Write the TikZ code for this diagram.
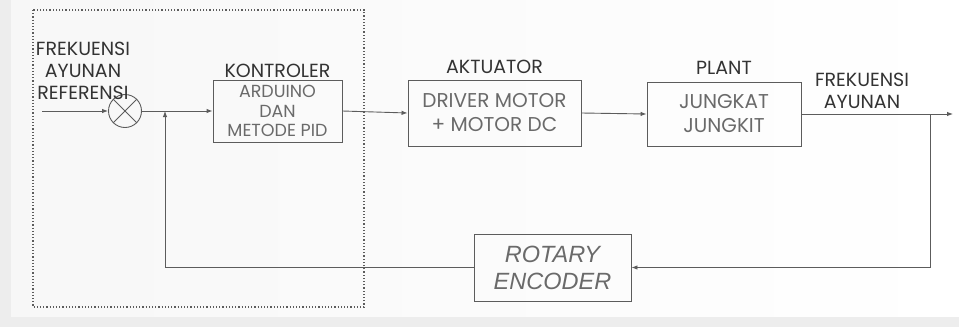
\documentclass[tikz,border=0pt]{standalone}
\usepackage{fontspec}
\setmainfont{Poppins}
\newfontfamily\encfont{Liberation Sans}
\usetikzlibrary{arrows.meta,positioning,shapes.geometric}

\definecolor{txtdark}{HTML}{333333}
\definecolor{txtgray}{HTML}{6A6A6A}
\definecolor{linegray}{HTML}{5C5C5C}

\begin{document}
\begin{tikzpicture}[x=1pt, y=-1pt,
  blok/.style={draw=linegray, line width=0.9pt, align=center, inner sep=0pt, text=txtgray, font=\fontsize{20}{24}\selectfont},
  judul/.style={inner sep=0pt, text=txtdark, align=center, font=\fontsize{19}{22}\selectfont},
  arr/.style={-{Latex[length=6pt,width=4.5pt]}, draw=linegray, line width=0.9pt},
  garis/.style={draw=linegray, line width=0.9pt},
]
  % background
  \fill[gray!14] (0,0) rectangle (959,327);
  \shade[left color=gray!6, right color=white] (11,0) rectangle (959,316);
  \useasboundingbox (0,0) rectangle (959,327);

  % Main flow
  \node[circle, draw=linegray, line width=0.9pt, minimum size=33pt, inner sep=0pt] (sum) at (125,111) {};
  \draw[garis] (sum.north west) -- (sum.south east) (sum.north east) -- (sum.south west);
  \node[blok, minimum width=129pt, minimum height=62pt, font=\fontsize{17.5}{19.5}\selectfont] (kon) at (277.5,111) {ARDUINO\\DAN\\METODE PID};
  \node[blok, minimum width=173pt, minimum height=66pt] (akt) at (494.5,113) {DRIVER MOTOR\\+ MOTOR DC};
  \node[blok, minimum width=154pt, minimum height=64pt] (plt) at (724,114) {JUNGKAT\\JUNGKIT};
  \node[blok, minimum width=157pt, minimum height=67pt, font=\encfont\itshape\fontsize{23.5}{27}\selectfont] (enc) at (552.5,267.5) {ROTARY\\ENCODER};

  % Labels
  \node[judul] (reflbl) at (83,71) {FREKUENSI\\AYUNAN\\REFERENSI};
  \node[judul, above=2pt of kon] (konlbl) {KONTROLER};
  \node[judul, above=6pt of akt] (aktlbl) {AKTUATOR};
  \node[judul, above=7pt of plt] (pltlbl) {PLANT};
  \node[judul] (outlbl) at (862,91) {FREKUENSI\\AYUNAN};

  \coordinate (refin) at (42,111);
  \coordinate (fb) at (165,111);
  \coordinate (cab) at (930,114);
  \coordinate (yout) at (953,114);

  \draw[arr] (refin) -- (sum.west);
  \draw[arr] (sum.east) -- (kon.west);
  \draw[arr] (kon.east) -- (akt.west);
  \draw[arr] (akt.east) -- (plt.west);
  \draw[arr] (plt.east) -- (yout);

  % Feedback
  \draw[arr] (cab) |- (enc.east);
  \draw[arr] (enc.west) -| (fb);

  % Controller group
  \draw[linegray, dotted, line width=1.2pt] (33,10) rectangle (364,307);
\end{tikzpicture}
\end{document}
